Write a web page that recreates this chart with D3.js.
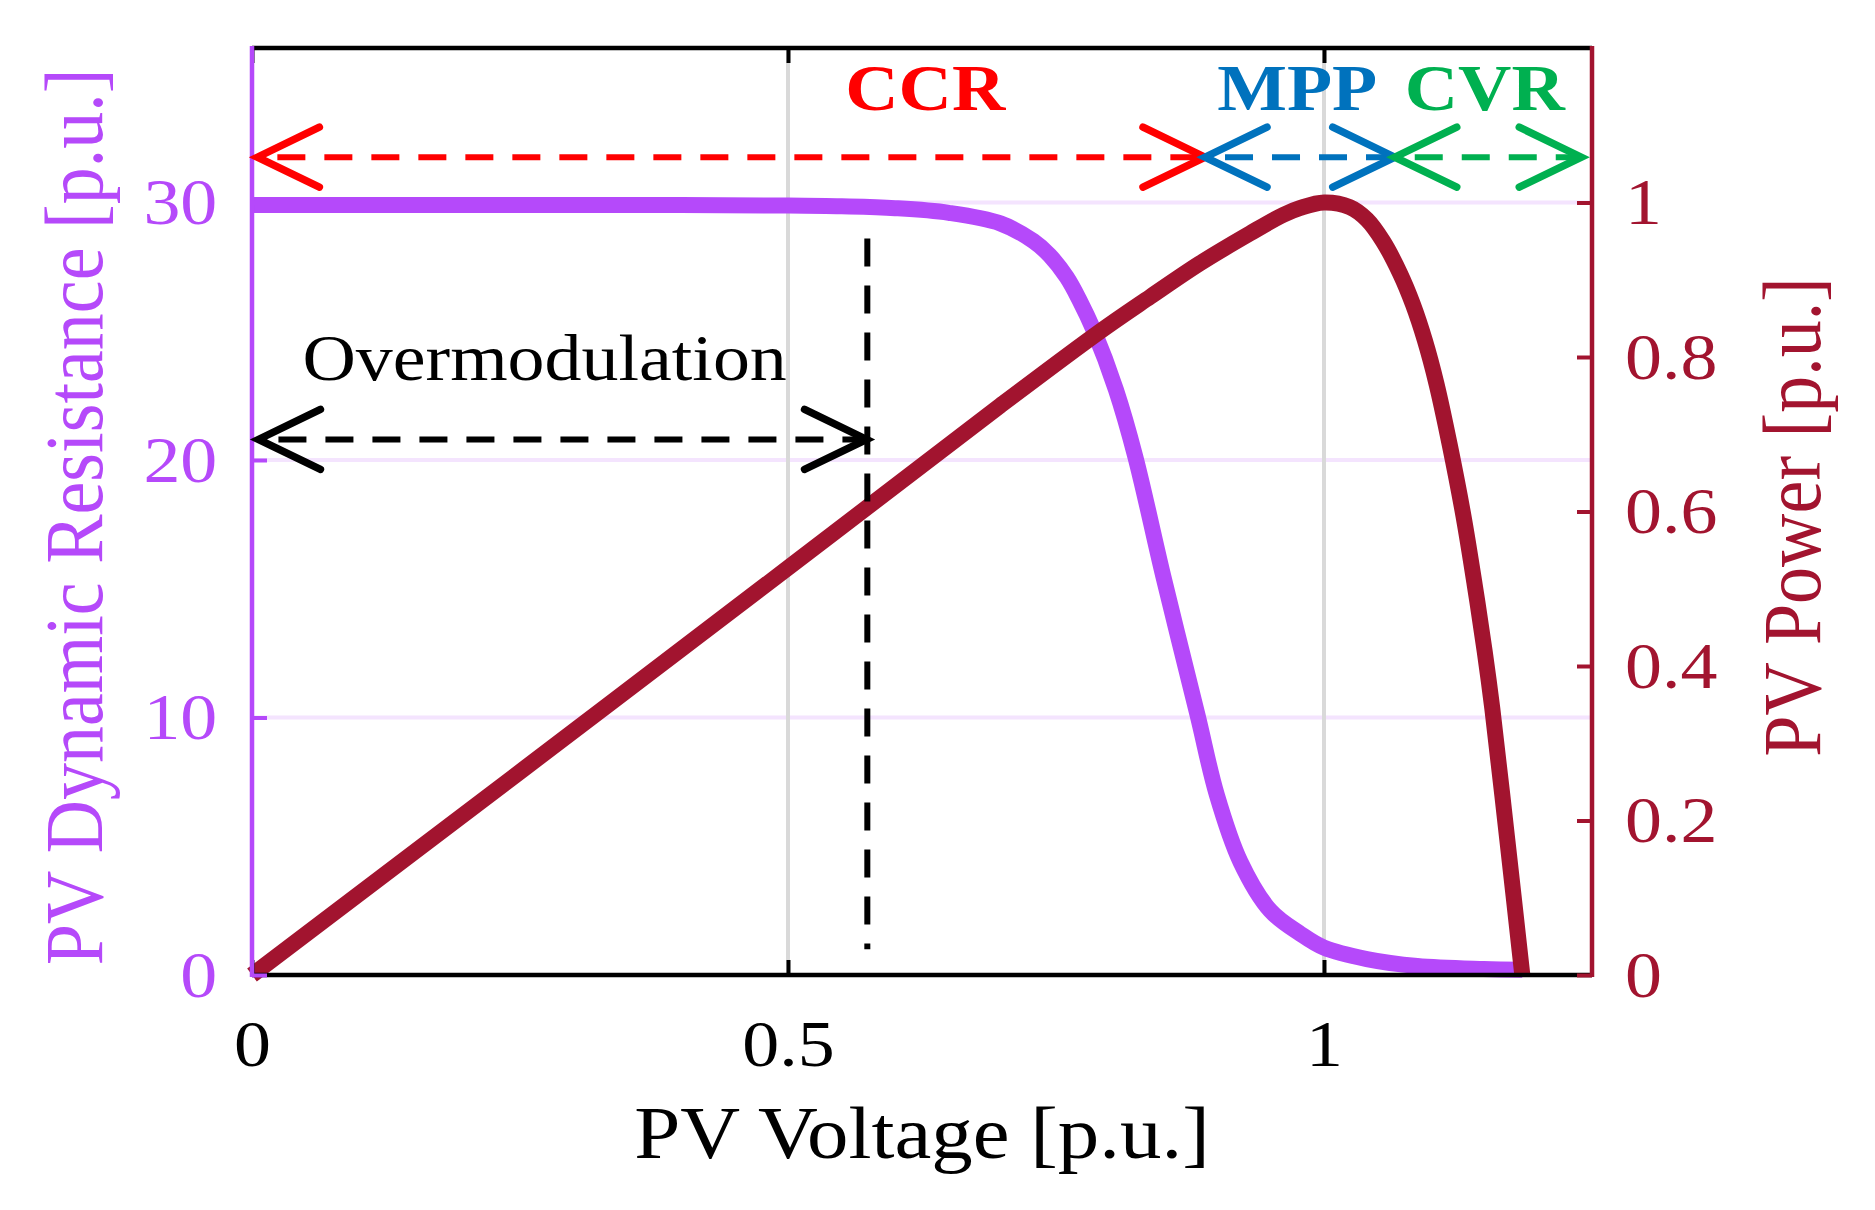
<!DOCTYPE html>
<html><head><meta charset="utf-8">
<script src="https://cdn.jsdelivr.net/npm/d3@7"></script>
<style>body{margin:0;background:#fff}</style>
</head><body><svg id="c" width="1875" height="1210"></svg>
<script>
// ---------- data ----------
const resV = [0,0.2,0.4,0.5,0.55,0.6,0.65,0.698,0.729,0.744,0.76,0.772,0.785,0.806,0.824,0.85,0.882,0.9,0.922,0.95,0.978,1.0,1.04,1.087,1.149,1.185];
const resR = [29.9,29.9,29.9,29.88,29.85,29.78,29.6,29.19,28.5,27.95,27.1,26.2,25.05,22.72,20.13,15.5,10.1,7.0,4.4,2.5,1.6,1.06,0.62,0.35,0.23,0.2];
const powV = [0,0.25,0.5,0.698,0.791,0.838,0.884,0.931,0.962,0.978,1.0,1.024,1.04,1.055,1.071,1.083,1.094,1.105,1.1175,1.13,1.1406,1.15,1.157,1.171,1.185];
const powP = [0,0.263,0.527,0.737,0.833,0.878,0.921,0.96,0.984,0.993,1.0,0.994,0.978,0.95,0.908,0.868,0.822,0.765,0.685,0.595,0.505,0.418,0.345,0.175,0];
const xTicks = [0,0.5,1];
const xTickLabels = ["0","0.5","1"];
const yLTicks = [0,10,20,30];
const yRTicks = [0,0.2,0.4,0.6,0.8,1];
const yRTickLabels = ["0","0.2","0.4","0.6","0.8","1"];
const regionNames = ["CCR","MPP","CVR"];
const regionFrom = [0.005,0.889,1.066];
const regionTo = [0.889,1.066,1.24];
const regionLabelX = [0.628,0.975,1.15];
const regionArrowR = 31.76, regionLabelR = 33.6;
const overmodFrom = 0.006, overmodTo = 0.5733, overmodR = 20.8;
const overmodLabelX = 0.047, overmodLabelR = 23.1;
const vLineX = 0.574, vLineR0 = 1.0, vLineR1 = 28.6;

// ---------- styles ----------
const PURPLE = "rgb(181,73,250)", DRED = "#A2142F";
const REGION_COLORS = ["#FF0000","#0072BD","#00B050"];
const SX = 1.12, FONT = "'Liberation Serif','Times New Roman',serif";

const svg = d3.select("#c");
svg.append("rect").attr("width",1875).attr("height",1210).attr("fill","#fff");
const x = d3.scaleLinear([0,1.25],[252,1592]);
const yL = d3.scaleLinear([0,36],[975,48]);
const yR = d3.scaleLinear([0,1.2],[975,48]);

// grid
svg.append("g").selectAll("line").data(yLTicks.filter(d=>d>0)).join("line")
  .attr("x1",x(0)).attr("x2",x(1.25)).attr("y1",d=>yL(d)).attr("y2",d=>yL(d))
  .attr("stroke","#F4E4FE").attr("stroke-width",4);
svg.append("g").selectAll("line").data(xTicks.filter(d=>d>0)).join("line")
  .attr("y1",yL(0)).attr("y2",yL(36)).attr("x1",d=>x(d)).attr("x2",d=>x(d))
  .attr("stroke","#D9D9D9").attr("stroke-width",4);

// curves
const resData = resV.map((v,i)=>[v,resR[i]]);
const powData = powV.map((v,i)=>[v,powP[i]]);
svg.append("path").datum(resData)
  .attr("d",d3.line().x(d=>x(d[0])).y(d=>yL(d[1])).curve(d3.curveCatmullRom.alpha(0.5)))
  .attr("fill","none").attr("stroke",PURPLE).attr("stroke-width",16).attr("stroke-linejoin","round");
svg.append("path").datum(powData)
  .attr("d",d3.line().x(d=>x(d[0])).y(d=>yR(d[1])).curve(d3.curveCatmullRom.alpha(0.5)))
  .attr("fill","none").attr("stroke",DRED).attr("stroke-width",16).attr("stroke-linejoin","round");

// axes
function styleAxis(g,color){
  g.select(".domain").attr("stroke",color).attr("stroke-width",4.5);
  g.selectAll(".tick line").attr("stroke",color).attr("stroke-width",4);
  g.selectAll(".tick text").attr("fill",color).attr("font-family",FONT).attr("font-size",66);
}
const gB = svg.append("g").attr("transform",`translate(0,${yL(0)})`)
  .call(d3.axisBottom(x).tickValues(xTicks).tickFormat((d,i)=>xTickLabels[i]).tickSizeInner(-15).tickSizeOuter(0).tickPadding(44));
styleAxis(gB,"#000");
gB.selectAll(".tick text").attr("transform",`scale(${SX},1)`);
const gT = svg.append("g").attr("transform",`translate(0,${yL(36)})`)
  .call(d3.axisTop(x).tickValues(xTicks).tickFormat("").tickSizeInner(-15).tickSizeOuter(0));
styleAxis(gT,"#000");
const gR = svg.append("g").attr("transform",`translate(${x(1.25)},0)`)
  .call(d3.axisRight(yR).tickValues(yRTicks).tickFormat((d,i)=>yRTickLabels[i]).tickSizeInner(-15).tickSizeOuter(0).tickPadding(29.5));
styleAxis(gR,DRED);
gR.selectAll(".tick text").attr("transform",`scale(${SX},1)`);
const gL = svg.append("g").attr("transform",`translate(${x(0)},0)`)
  .call(d3.axisLeft(yL).tickValues(yLTicks).tickFormat(d3.format("d")).tickSizeInner(-15).tickSizeOuter(0).tickPadding(31));
styleAxis(gL,PURPLE);
gL.selectAll(".tick text").attr("transform",`scale(${SX},1)`);
gB.select(".domain").attr("d",`M${x(0)},0H${x(1.25)}`);
gT.select(".domain").attr("d",`M${x(0)},0H${x(1.25)}`);
gL.select(".domain").attr("d",`M0,${yL(0)+2}V${yL(36)-2}`);
gR.select(".domain").attr("d",`M0,${yR(0)+2}V${yR(1.2)-2}`);

// axis labels
svg.append("text").text("PV Voltage [p.u.]").attr("font-family",FONT).attr("font-size",74)
  .attr("text-anchor","middle").attr("transform",`translate(${(x(0)+x(1.25))/2},1158) scale(${SX},1)`);
svg.append("text").text("PV Dynamic Resistance [p.u.]").attr("font-family",FONT).attr("font-size",74)
  .attr("fill",PURPLE).attr("text-anchor","middle").attr("transform",`translate(102,517) scale(${SX},1) rotate(-90)`);
svg.append("text").text("PV Power [p.u.]").attr("font-family",FONT).attr("font-size",74)
  .attr("fill",DRED).attr("text-anchor","middle").attr("transform",`translate(1820,517) scale(${SX},1) rotate(-90)`);

// annotations
function arrow(x0,x1,yy,color){
  const g = svg.append("g");
  g.append("line").attr("x1",x0).attr("x2",x1).attr("y1",yy).attr("y2",yy)
    .attr("stroke",color).attr("stroke-width",6).attr("stroke-dasharray","28 19").attr("stroke-dashoffset",-20);
  [[x0,1],[x1,-1]].forEach(([t,s])=>{
    g.append("path").attr("d",`M${t+s*62},${yy-30}L${t},${yy}L${t+s*62},${yy+30}`)
      .attr("fill","none").attr("stroke",color).attr("stroke-width",7.5).attr("stroke-linecap","round");
  });
}
regionNames.forEach((n,i)=>{
  arrow(x(regionFrom[i]),x(regionTo[i]),yL(regionArrowR),REGION_COLORS[i]);
  svg.append("text").text(n).attr("font-family",FONT).attr("font-weight","bold").attr("font-size",66)
    .attr("fill",REGION_COLORS[i]).attr("text-anchor","middle")
    .attr("transform",`translate(${x(regionLabelX[i])},${yL(regionLabelR)}) scale(${SX},1)`);
});
arrow(x(overmodFrom),x(overmodTo),yL(overmodR),"#000");
svg.append("text").text("Overmodulation").attr("font-family",FONT).attr("font-size",66)
  .attr("transform",`translate(${x(overmodLabelX)},${yL(overmodLabelR)}) scale(${SX},1)`);
svg.append("line").attr("x1",x(vLineX)).attr("x2",x(vLineX)).attr("y1",yL(vLineR1)).attr("y2",yL(vLineR0))
  .attr("stroke","#000").attr("stroke-width",6).attr("stroke-dasharray","28 19");
</script></body></html>
